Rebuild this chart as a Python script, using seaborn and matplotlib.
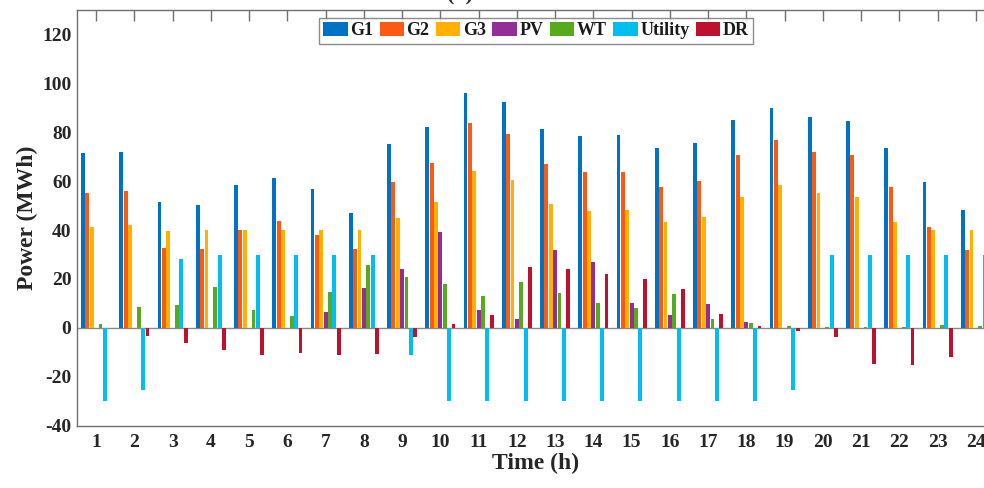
import numpy as np
import pandas as pd
import matplotlib
matplotlib.use("Agg")
import matplotlib.pyplot as plt
import seaborn as sns

# ---------------- data ----------------
hours = [str(h) for h in range(1, 25)]
series = ["G1", "G2", "G3", "PV", "WT", "Utility", "DR"]

G1 = [71.4, 72.0, 51.6, 50.3, 58.5, 61.4, 56.7, 46.9, 75.2, 82.0, 95.9, 92.2,
      81.5, 78.6, 78.9, 73.6, 75.5, 84.9, 90.1, 86.1, 84.8, 73.5, 59.5, 48.4]
G2 = [55.2, 55.9, 32.5, 32.1, 40.1, 43.7, 38.0, 32.1, 59.7, 67.5, 83.8, 79.3,
      66.9, 63.7, 63.8, 57.7, 60.0, 70.7, 76.7, 72.1, 70.7, 57.6, 41.4, 32.0]
G3 = [41.4, 41.9, 39.6, 40.0, 40.0, 40.0, 40.0, 40.0, 45.0, 51.3, 64.2, 60.5,
      50.7, 48.0, 48.3, 43.4, 45.2, 53.7, 58.6, 55.0, 53.7, 43.4, 39.9, 39.9]
PV = [0, 0, 0, 0, 0, 0, 6.4, 16.3, 24.1, 39.2, 7.5, 3.7,
      32.0, 26.8, 10.1, 5.3, 9.7, 2.4, 0, 0, 0, 0, 0, 0]
WT = [1.6, 8.4, 9.4, 16.7, 7.3, 4.9, 14.7, 25.7, 20.7, 18.0, 12.9, 18.8,
      14.3, 10.3, 8.2, 13.7, 3.5, 1.8, 0.7, 0.2, 0.2, 0.3, 1.1, 0.7]
Utility = [-30, -25.3, 28.0, 30, 30, 30, 30, 30, -11.0, -30, -30, -30,
           -30, -30, -30, -30, -30, -30, -25.3, 30, 30, 30, 30, 30]
DR = [0, -3.3, -6.3, -9.1, -11.2, -10.2, -11.0, -10.7, -3.9, 1.5, 5.3, 25.0,
      24.1, 22.0, 20.0, 15.8, 5.7, 0.8, -1.2, -3.8, -14.8, -15.0, -12.1, 0]

colors = ["#0072C6", "#FC5A12", "#FFB000", "#922E96", "#56AB1C", "#00BFEF", "#C0102F"]

values = dict(zip(series, [G1, G2, G3, PV, WT, Utility, DR]))
df = pd.DataFrame([
    {"hour": h, "source": s, "power": values[s][i]}
    for s in series for i, h in enumerate(hours)
])

# ---------------- plot ----------------
sns.set_theme(style="white")
plt.rcParams["font.family"] = ["Liberation Serif", "DejaVu Serif"]
plt.rcParams["font.weight"] = "bold"
plt.rcParams["axes.unicode_minus"] = False

fig = plt.figure(figsize=(9.84, 4.88), dpi=100)
ax = fig.add_axes([77 / 984, 62.3 / 488, 918 / 984, 415.7 / 488])

sns.barplot(data=df, x="hour", y="power", hue="source", order=hours,
            hue_order=series, palette=colors, width=0.8, gap=0.1,
            saturation=1, linewidth=0, ax=ax, legend=True)

ax.axhline(0, color="#8a8a8a", lw=1.0, zorder=0.5)
ax.set_xlim(-0.5, 23.5)
ax.set_ylim(-40, 130)
ax.set_yticks(np.arange(-40, 121, 20))

edge = "#707070"
for side in ["left", "top", "bottom"]:
    ax.spines[side].set_color(edge)
    ax.spines[side].set_linewidth(1.0)
ax.spines["right"].set_visible(False)
ax.tick_params(axis="both", direction="in", length=8, width=1, color=edge,
               labelsize=14, labelcolor="#262626", top=True, pad=6)
ax.tick_params(axis="y", pad=4)
for lab in ax.get_xticklabels() + ax.get_yticklabels():
    lab.set_fontweight("bold")

ax.set_xlabel("Time (h)", fontsize=17, fontweight="bold", color="#262626", labelpad=1)
ax.set_ylabel("Power (MWh)", fontsize=17, fontweight="bold", color="#262626", labelpad=3)

leg = ax.legend(loc="upper center", bbox_to_anchor=(0.5, 0.99), ncol=7,
                frameon=True, fancybox=False, edgecolor=edge, fontsize=13,
                handlelength=1.35, handleheight=0.8, handletextpad=0.15,
                columnspacing=0.35, borderpad=0.25, borderaxespad=0.2)
leg.get_frame().set_linewidth(1.0)
for t in leg.get_texts():
    t.set_fontweight("bold")
    t.set_color("#1a1a1a")

fig.text(460 / 984, 1 - 5 / 488, "(a)", fontsize=16, fontweight="bold",
         ha="center", va="bottom", color="#262626")

fig.savefig("out.png", dpi=100)
